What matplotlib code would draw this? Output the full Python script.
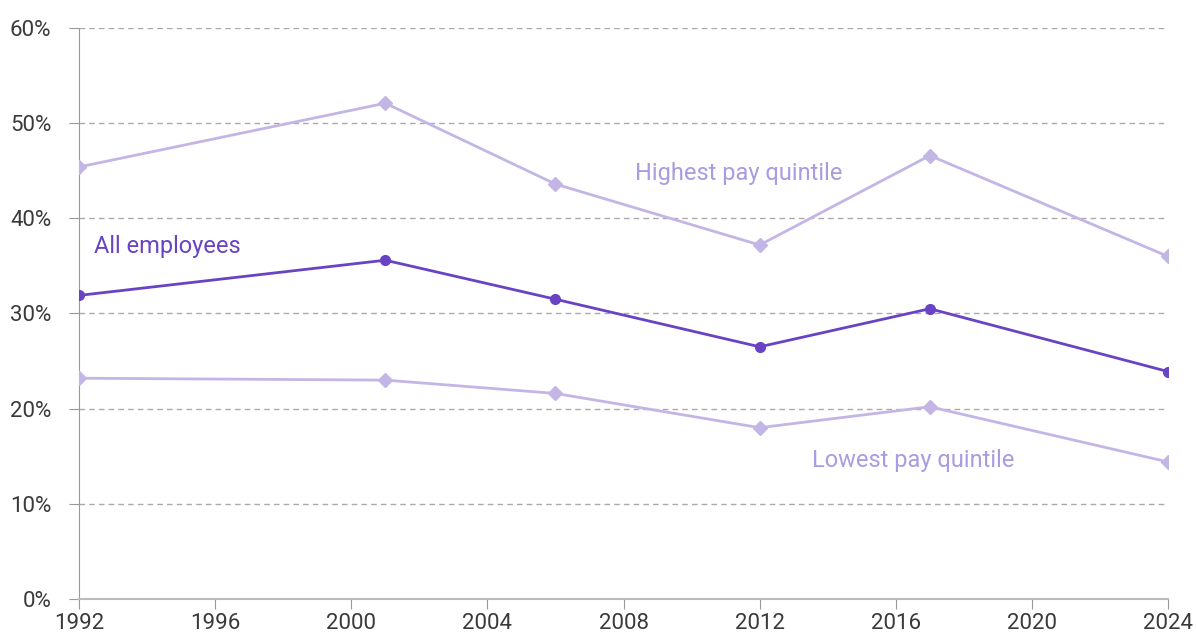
import matplotlib.pyplot as plt
from matplotlib.ticker import FuncFormatter

plt.rcParams['font.family'] = ['Roboto', 'DejaVu Sans']

years = [1992, 2001, 2006, 2012, 2017, 2024]
highest = [45.4, 52.1, 43.6, 37.2, 46.6, 36.0]
all_emp = [31.9, 35.6, 31.5, 26.5, 30.5, 23.9]
lowest = [23.2, 23.0, 21.6, 18.0, 20.2, 14.4]

dark = '#6844c4'
light = '#c3b6e6'
grey = '#999999'

fig = plt.figure(figsize=(11.96, 6.37), dpi=100)
ax = fig.add_axes([0.0661, 0.0597, 0.9105, 0.8963])

ax.plot(years, highest, color=light, lw=2, marker='D', ms=7, zorder=3)
ax.plot(years, lowest, color=light, lw=2, marker='D', ms=7, zorder=3)
ax.plot(years, all_emp, color=dark, lw=2, marker='o', ms=7, zorder=4)

ax.text(1992.45, 37.0, 'All employees', color=dark, fontsize=17, va='center')
ax.text(2008.35, 44.7, 'Highest pay quintile', color='#ab9be0', fontsize=17, va='center')
ax.text(2013.55, 14.6, 'Lowest pay quintile', color='#ab9be0', fontsize=17, va='center')

ax.set_xlim(1992, 2024)
ax.set_ylim(0, 60)
ax.set_xticks(range(1992, 2025, 4))
ax.set_yticks(range(0, 61, 10))
ax.yaxis.set_major_formatter(FuncFormatter(lambda v, p: f'{v:.0f}%'))
ax.grid(axis='y', color='#aaaaaa', ls=(0, (4, 3)), lw=1)
ax.set_axisbelow(True)

for s in ['top', 'right']:
    ax.spines[s].set_visible(False)
ax.spines['left'].set_color(grey)
ax.spines['bottom'].set_color('#bbbbbb')
ax.spines['bottom'].set_linewidth(1.5)
ax.tick_params(axis='both', colors=grey, length=7, labelsize=16, labelcolor='#3a3a3a')
ax.tick_params(axis='x', pad=3)
ax.tick_params(axis='y', pad=13)

fig.savefig('out.png', dpi=100)
